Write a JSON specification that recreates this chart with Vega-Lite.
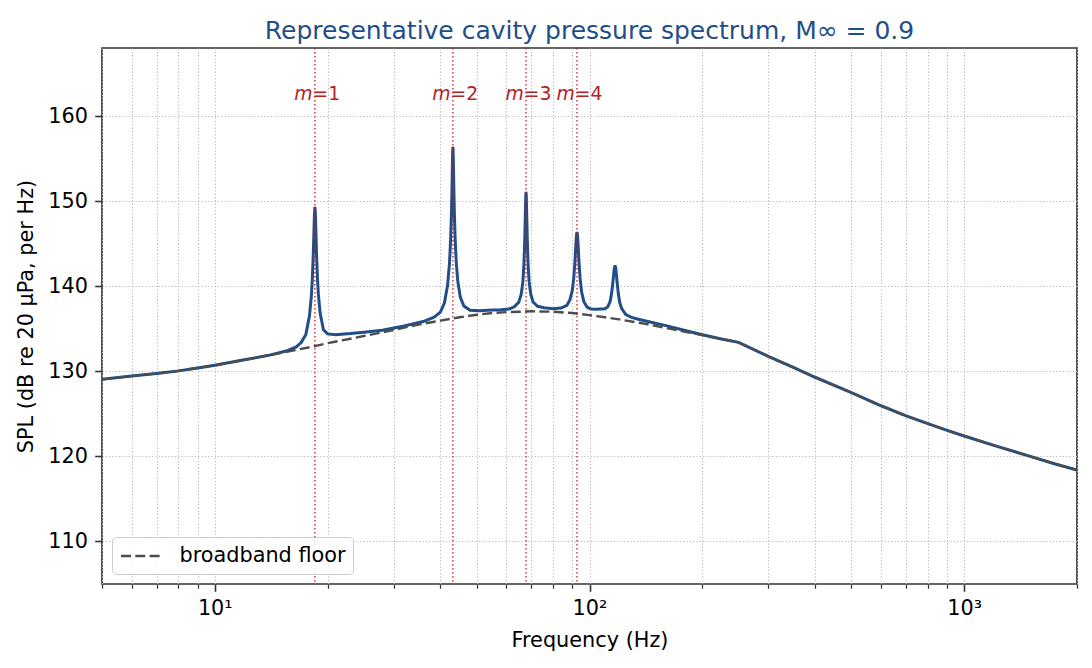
{
  "$schema": "https://vega.github.io/schema/vega-lite/v6.json",
  "width": 975,
  "height": 536,
  "autosize": {"type": "none"},
  "padding": {"left": 102, "top": 48, "right": 15, "bottom": 84},
  "background": "white",
  "title": {
    "text": "Representative cavity pressure spectrum, M∞ = 0.9",
    "color": "#1f4e89",
    "fontSize": 25,
    "font": "DejaVu Sans",
    "fontWeight": "normal",
    "anchor": "middle",
    "frame": "group",
    "baseline": "bottom",
    "offset": 9,
    "dy": 31
  },
  "config": {
    "view": {"stroke": "#333333", "strokeWidth": 1.7},
    "font": "DejaVu Sans",
    "legend": {
      "orient": "bottom-left",
      "offset": 10,
      "padding": 7.5,
      "strokeColor": "#cccccc",
      "fillColor": "rgba(255,255,255,0.85)",
      "cornerRadius": 4,
      "labelFont": "DejaVu Sans",
      "labelFontSize": 20.8,
      "labelColor": "black",
      "labelLimit": 400,
      "labelOffset": 27,
      "symbolType": "M-2,0L2,0",
      "symbolSize": 400,
      "symbolOffset": 10,
      "symbolStrokeWidth": 2.4,
      "symbolStrokeColor": "#4d4d4d",
      "symbolOpacity": 1
    }
  },
  "datasets": {
    "spectrum": [
      {"f": 5, "spl": 129.05}, {"f": 6, "spl": 129.45}, {"f": 7, "spl": 129.75}, {"f": 8, "spl": 130.05},
      {"f": 9, "spl": 130.4}, {"f": 10, "spl": 130.7}, {"f": 12, "spl": 131.35}, {"f": 14, "spl": 131.9},
      {"f": 15.5, "spl": 132.38}, {"f": 16.5, "spl": 132.87}, {"f": 17, "spl": 133.38}, {"f": 17.5, "spl": 134.34},
      {"f": 17.9, "spl": 136.58}, {"f": 18.1, "spl": 138.85}, {"f": 18.2, "spl": 140.68}, {"f": 18.3, "spl": 143.25},
      {"f": 18.35, "spl": 144.91}, {"f": 18.4, "spl": 146.76}, {"f": 18.45, "spl": 148.51}, {"f": 18.5, "spl": 149.32},
      {"f": 18.55, "spl": 148.54}, {"f": 18.6, "spl": 146.81}, {"f": 18.65, "spl": 144.98}, {"f": 18.7, "spl": 143.34},
      {"f": 18.8, "spl": 140.82}, {"f": 18.9, "spl": 139.04}, {"f": 19.1, "spl": 136.85}, {"f": 19.5, "spl": 134.89},
      {"f": 20, "spl": 134.4}, {"f": 21, "spl": 134.29}, {"f": 23, "spl": 134.43}, {"f": 25, "spl": 134.6},
      {"f": 28, "spl": 134.83}, {"f": 32, "spl": 135.32}, {"f": 36, "spl": 135.85}, {"f": 38.5, "spl": 136.37},
      {"f": 40, "spl": 136.95}, {"f": 41, "spl": 138.03}, {"f": 41.8, "spl": 140.1}, {"f": 42.3, "spl": 142.67},
      {"f": 42.6, "spl": 145.47}, {"f": 42.8, "spl": 148.36}, {"f": 42.9, "spl": 150.27}, {"f": 43.0, "spl": 152.59},
      {"f": 43.05, "spl": 153.84}, {"f": 43.1, "spl": 155.04}, {"f": 43.15, "spl": 155.96}, {"f": 43.2, "spl": 156.38},
      {"f": 43.25, "spl": 155.97}, {"f": 43.3, "spl": 155.05}, {"f": 43.35, "spl": 153.85}, {"f": 43.4, "spl": 152.62},
      {"f": 43.5, "spl": 150.32}, {"f": 43.6, "spl": 148.43}, {"f": 43.8, "spl": 145.57}, {"f": 44.1, "spl": 142.81},
      {"f": 44.5, "spl": 140.63}, {"f": 45.2, "spl": 138.73}, {"f": 46.2, "spl": 137.68}, {"f": 48, "spl": 137.18},
      {"f": 51, "spl": 137.11}, {"f": 55, "spl": 137.2}, {"f": 58, "spl": 137.23}, {"f": 61, "spl": 137.31},
      {"f": 63, "spl": 137.58}, {"f": 64.7, "spl": 138.1}, {"f": 65.7, "spl": 139.01}, {"f": 66.4, "spl": 140.51},
      {"f": 66.8, "spl": 142.39}, {"f": 67.05, "spl": 144.27}, {"f": 67.25, "spl": 146.34}, {"f": 67.4, "spl": 148.25},
      {"f": 67.5, "spl": 149.57}, {"f": 67.6, "spl": 150.65}, {"f": 67.7, "spl": 151.09}, {"f": 67.8, "spl": 150.65},
      {"f": 67.9, "spl": 149.58}, {"f": 68.0, "spl": 148.26}, {"f": 68.15, "spl": 146.35}, {"f": 68.35, "spl": 144.28},
      {"f": 68.6, "spl": 142.41}, {"f": 69.0, "spl": 140.54}, {"f": 69.7, "spl": 139.05}, {"f": 70.7, "spl": 138.15},
      {"f": 72.7, "spl": 137.64}, {"f": 75.7, "spl": 137.48}, {"f": 80, "spl": 137.35}, {"f": 84, "spl": 137.44},
      {"f": 87, "spl": 137.74}, {"f": 88.6, "spl": 138.37}, {"f": 89.9, "spl": 139.42}, {"f": 90.8, "spl": 141.01},
      {"f": 91.4, "spl": 142.73}, {"f": 91.8, "spl": 144.21}, {"f": 92.1, "spl": 145.35}, {"f": 92.3, "spl": 145.97},
      {"f": 92.6, "spl": 146.39}, {"f": 92.9, "spl": 145.95}, {"f": 93.1, "spl": 145.33}, {"f": 93.4, "spl": 144.17},
      {"f": 93.8, "spl": 142.67}, {"f": 94.4, "spl": 140.92}, {"f": 95.3, "spl": 139.28}, {"f": 96.6, "spl": 138.18},
      {"f": 98.6, "spl": 137.53}, {"f": 101, "spl": 137.32}, {"f": 104, "spl": 137.3}, {"f": 107, "spl": 137.32},
      {"f": 110, "spl": 137.35}, {"f": 112, "spl": 137.6}, {"f": 113.6, "spl": 138.26}, {"f": 114.6, "spl": 139.22},
      {"f": 115.4, "spl": 140.37}, {"f": 116, "spl": 141.4}, {"f": 116.5, "spl": 142.12}, {"f": 117, "spl": 142.45},
      {"f": 117.5, "spl": 142.1}, {"f": 118, "spl": 141.35}, {"f": 118.6, "spl": 140.29}, {"f": 119.4, "spl": 139.11},
      {"f": 120.4, "spl": 138.09}, {"f": 121.8, "spl": 137.4}, {"f": 125, "spl": 136.67}, {"f": 129, "spl": 136.37},
      {"f": 135, "spl": 136.12}, {"f": 145, "spl": 135.79}, {"f": 160, "spl": 135.37}, {"f": 180, "spl": 134.8},
      {"f": 200, "spl": 134.3}, {"f": 225, "spl": 133.8}, {"f": 250, "spl": 133.4}, {"f": 300, "spl": 131.75},
      {"f": 350, "spl": 130.45}, {"f": 400, "spl": 129.3}, {"f": 450, "spl": 128.35}, {"f": 500, "spl": 127.5},
      {"f": 600, "spl": 125.95}, {"f": 700, "spl": 124.75}, {"f": 800, "spl": 123.85}, {"f": 900, "spl": 123.05},
      {"f": 1000, "spl": 122.4}, {"f": 1200, "spl": 121.3}, {"f": 1500, "spl": 120.0}, {"f": 1750, "spl": 119.1},
      {"f": 2000, "spl": 118.4}
    ],
    "floor": [
      {"f": 5, "spl": 129.05}, {"f": 6, "spl": 129.45}, {"f": 7, "spl": 129.75}, {"f": 8, "spl": 130.05},
      {"f": 9, "spl": 130.4}, {"f": 10, "spl": 130.7}, {"f": 12, "spl": 131.35}, {"f": 14, "spl": 131.9},
      {"f": 16, "spl": 132.4}, {"f": 18, "spl": 132.85}, {"f": 20, "spl": 133.3}, {"f": 25, "spl": 134.15},
      {"f": 30, "spl": 134.85}, {"f": 35, "spl": 135.5}, {"f": 40, "spl": 135.95}, {"f": 45, "spl": 136.35},
      {"f": 50, "spl": 136.65}, {"f": 55, "spl": 136.85}, {"f": 60, "spl": 136.95}, {"f": 70, "spl": 137.05},
      {"f": 80, "spl": 137.0}, {"f": 90, "spl": 136.85}, {"f": 100, "spl": 136.6}, {"f": 110, "spl": 136.35},
      {"f": 120, "spl": 136.1}, {"f": 140, "spl": 135.6}, {"f": 160, "spl": 135.1}, {"f": 180, "spl": 134.65},
      {"f": 200, "spl": 134.25}, {"f": 225, "spl": 133.8}, {"f": 250, "spl": 133.4}, {"f": 300, "spl": 131.75},
      {"f": 350, "spl": 130.45}, {"f": 400, "spl": 129.3}, {"f": 450, "spl": 128.35}, {"f": 500, "spl": 127.5},
      {"f": 600, "spl": 125.95}, {"f": 700, "spl": 124.75}, {"f": 800, "spl": 123.85}, {"f": 900, "spl": 123.05},
      {"f": 1000, "spl": 122.4}, {"f": 1200, "spl": 121.3}, {"f": 1500, "spl": 120.0}, {"f": 1750, "spl": 119.1},
      {"f": 2000, "spl": 118.4}
    ],
    "modes": [
      {"f": 18.5, "rest": "=1"},
      {"f": 43.2, "rest": "=2"},
      {"f": 67.7, "rest": "=3"},
      {"f": 92.6, "rest": "=4"}
    ]
  },
  "layer": [
    {
      "data": {"name": "spectrum"},
      "mark": {"type": "line", "color": "#1f4e89", "strokeWidth": 3, "clip": true},
      "encoding": {
        "x": {
          "field": "f",
          "type": "quantitative",
          "scale": {"type": "log", "domain": [5, 2000], "nice": false},
          "axis": {
            "title": "Frequency (Hz)",
            "titleFont": "DejaVu Sans",
            "titleFontSize": 20.8,
            "titleFontWeight": "normal",
            "titleColor": "black",
            "titlePadding": 12,
            "values": [5, 6, 7, 8, 9, 10, 20, 30, 40, 50, 60, 70, 80, 90, 100, 200, 300, 400, 500, 600, 700, 800, 900, 1000, 2000],
            "labelExpr": "datum.value == 10 ? '10¹' : datum.value == 100 ? '10²' : datum.value == 1000 ? '10³' : ''",
            "labelFont": "DejaVu Sans",
            "labelFontSize": 20.8,
            "labelColor": "black",
            "labelPadding": 7.3,
            "labelOverlap": false,
            "labelFlush": false,
            "domain": false,
            "ticks": true,
            "tickColor": "#333333",
            "tickSize": {"condition": {"test": "datum.value == 10 || datum.value == 100 || datum.value == 1000", "value": 7.3}, "value": 4.2},
            "tickWidth": {"condition": {"test": "datum.value == 10 || datum.value == 100 || datum.value == 1000", "value": 1.6}, "value": 1.25},
            "grid": true,
            "gridColor": "#b8b8b8",
            "gridDash": [1.2, 2.1],
            "gridWidth": 1.1
          }
        },
        "y": {
          "field": "spl",
          "type": "quantitative",
          "scale": {"domain": [105, 168], "nice": false, "zero": false},
          "axis": {
            "title": "SPL (dB re 20 μPa, per Hz)",
            "titleFont": "DejaVu Sans",
            "titleFontSize": 20.8,
            "titleFontWeight": "normal",
            "titleColor": "black",
            "titlePadding": 11,
            "values": [110, 120, 130, 140, 150, 160],
            "labelFont": "DejaVu Sans",
            "labelFontSize": 20.8,
            "labelColor": "black",
            "labelPadding": 7.3,
            "domain": false,
            "tickColor": "#333333",
            "tickSize": 7.3,
            "tickWidth": 1.6,
            "grid": true,
            "gridColor": "#b8b8b8",
            "gridDash": [1.2, 2.1],
            "gridWidth": 1.1
          }
        }
      }
    },
    {
      "data": {"name": "floor"},
      "mark": {"type": "line", "color": "#4d4d4d", "strokeWidth": 2.4, "clip": true},
      "encoding": {
        "x": {"field": "f", "type": "quantitative"},
        "y": {"field": "spl", "type": "quantitative"},
        "strokeDash": {
          "datum": "broadband floor",
          "type": "nominal",
          "scale": {"range": [[10, 4.3]]},
          "legend": {"title": null, "symbolDash": [10, 4.3]}
        }
      }
    },
    {
      "data": {"name": "modes"},
      "mark": {"type": "rule", "color": "#b22222", "strokeDash": [1.5, 2.5], "strokeWidth": 1.3},
      "encoding": {
        "x": {"field": "f", "type": "quantitative"}
      }
    },
    {
      "data": {"name": "modes"},
      "mark": {"type": "text", "font": "DejaVu Sans", "fontStyle": "italic", "fontSize": 18.75, "color": "#b22222", "align": "right", "baseline": "alphabetic", "dx": -2.3},
      "encoding": {
        "x": {"field": "f", "type": "quantitative"},
        "y": {"datum": 161.9},
        "text": {"value": "m"}
      }
    },
    {
      "data": {"name": "modes"},
      "mark": {"type": "text", "font": "DejaVu Sans", "fontSize": 18.75, "color": "#b22222", "align": "left", "baseline": "alphabetic", "dx": -2.3},
      "encoding": {
        "x": {"field": "f", "type": "quantitative"},
        "y": {"datum": 161.9},
        "text": {"field": "rest"}
      }
    }
  ]
}
